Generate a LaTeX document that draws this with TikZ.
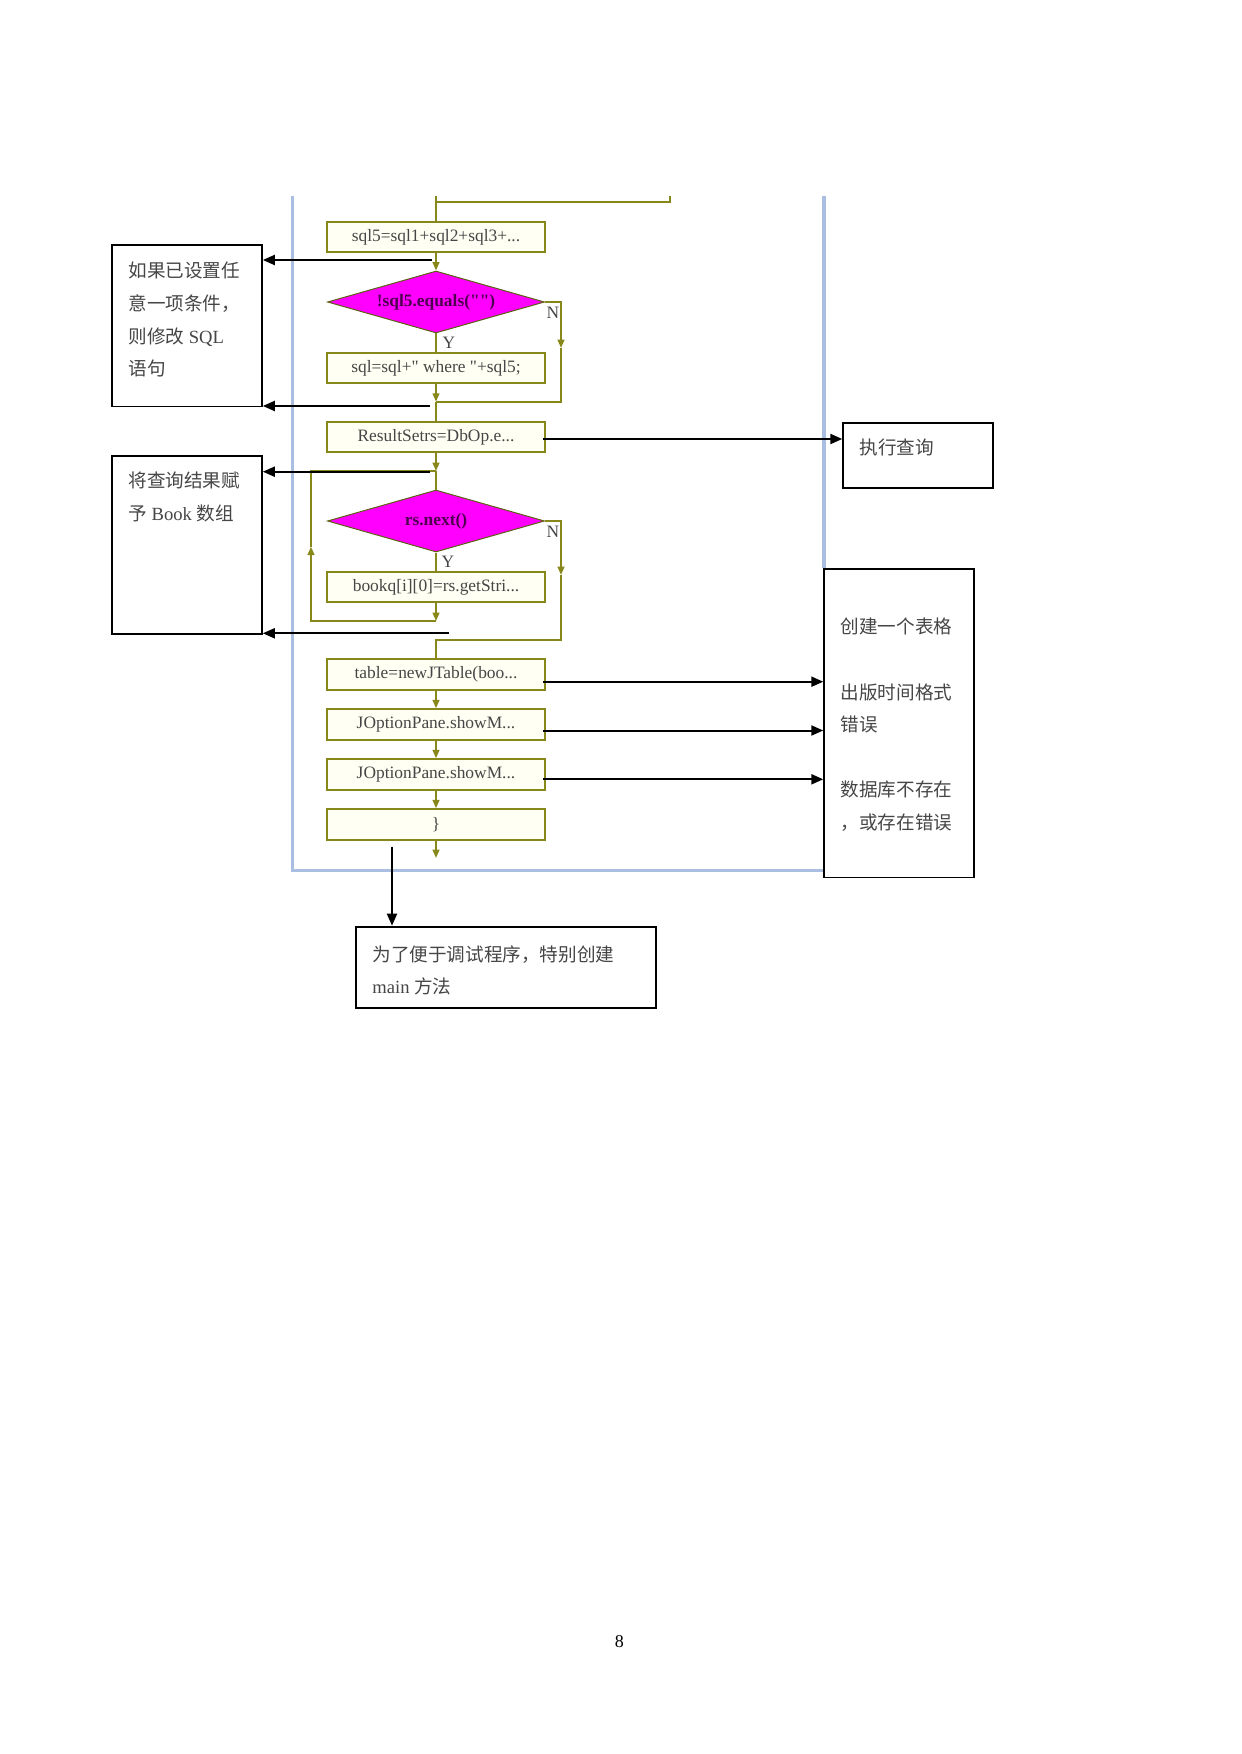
\documentclass[tikz,border=0pt]{standalone}
\usepackage{fontspec}
\setmainfont{Liberation Serif}
\newfontfamily\codefont{Liberation Serif}
\newfontfamily\cjk{Noto Sans CJK SC}
\usetikzlibrary{shapes.geometric,arrows.meta}
\definecolor{oliv}{RGB}{136,136,26}
\definecolor{frameblue}{RGB}{170,190,225}
\definecolor{boxfill}{RGB}{255,255,243}
\definecolor{txtgray}{RGB}{70,70,70}
\definecolor{dpurple}{RGB}{80,0,80}
\definecolor{mag}{RGB}{255,0,255}
\tikzset{
 flowbox/.style={draw=oliv, line width=1pt, fill=boxfill, minimum width=109.25pt, minimum height=15.25pt, inner sep=0pt, font=\codefont\fontsize{8.7}{10}\selectfont, text=txtgray},
 decide/.style={diamond, draw=oliv!70!black, line width=0.5pt, fill=mag, aspect=3.5, minimum width=108.5pt, minimum height=31pt, inner sep=0pt, font=\codefont\fontsize{8.7}{10}\selectfont\bfseries, text=dpurple},
 oline/.style={draw=oliv, line width=0.9pt},
 oarrow/.style={oline, -{Triangle[length=4.2pt,width=3.4pt]}},
 barrow/.style={draw=black, line width=1pt, -{Triangle[length=6pt,width=5pt]}},
 note/.style={draw=black, line width=0.9pt, fill=white, inner sep=0pt, anchor=north west, text=txtgray, font=\fontsize{9.3}{16.3}\selectfont},
 yn/.style={font=\codefont\fontsize{8.7}{10}\selectfont, text=txtgray, inner sep=0pt},
 frameline/.style={draw=frameblue, line width=1.6pt},
}
\newcommand{\notetext}[4]{\parbox[c][#2][t]{#1}{\vspace*{#3}\leftskip=8.25pt\parindent=0pt #4}}
\begin{document}
\begin{tikzpicture}[x=0.5pt,y=-0.5pt]
\fill[white] (0,0) rectangle (1241,1754);
\useasboundingbox (0,0) rectangle (1241,1754);
% blue frame
\draw[frameline] (292.7,196) -- (292.7,870.7) -- (823.3,870.7);
\draw[frameline] (824,196) -- (824,568.3);
% flow nodes
\node[flowbox] (s5) at (436,237) {sql5=sql1+sql2+sql3+...};
\node[decide] (d1) at (436,302) {!sql5.equals("")};
\node[flowbox] (s) at (436,368) {sql=sql+" where "+sql5;};
\node[flowbox] (rs) at (436,437) {ResultSetrs=DbOp.e...};
\node[decide] (d2) at (436,521) {rs.next()};
\node[flowbox] (bk) at (436,587) {bookq[i][0]=rs.getStri...};
\node[flowbox] (tb) at (436,674.5) {table=newJTable(boo...};
\node[flowbox] (j1) at (436,724.5) {JOptionPane.showM...};
\node[flowbox] (j2) at (436,774.5) {JOptionPane.showM...};
\node[flowbox] (br) at (436,824.5) {\}};
% labels
\node[yn] (y1) at (449,343) {Y};
\node[yn] (n1) at (553,313) {N};
\node[yn] (y2) at (448,561.7) {Y};
\node[yn] (n2) at (553,531.7) {N};
% coordinates
\coordinate (top) at (436,196);
\coordinate (tj) at (436,202.3);
\coordinate (tr) at (670,202.3);
\coordinate (tre) at (670,196);
\coordinate (n1a) at (561,348);
\coordinate (n1b) at (561,401.7);
\coordinate (j1m) at (436,401.7);
\coordinate (lt) at (436,471);
\coordinate (lb) at (436,621);
\coordinate (lbl) at (311,621);
\coordinate (lm) at (311,546.7);
\coordinate (ltl) at (311,471);
\coordinate (n2a) at (561,575);
\coordinate (n2b) at (561,640);
\coordinate (j2m) at (436,640);
\coordinate (fend) at (436,858);
% olive connectors
\draw[oline] (top) -- (s5.north);
\draw[oline] (tj) -- (tr) -- (tre);
\draw[oarrow] (s5.south) -- (d1.north);
\draw[oline] (d1.south) -- (s.north);
\draw[oarrow] (d1.east) -| (n1a);
\draw[oline] (n1a) -- (n1b) -- (j1m);
\draw[oarrow] (s.south) -- (j1m);
\draw[oline] (j1m) -- (rs.north);
\draw[oarrow] (rs.south) -- (lt);
\draw[oline] (lt) -- (d2.north);
\draw[oline] (d2.south) -- (bk.north);
\draw[oarrow] (bk.south) -- (lb);
\draw[oarrow] (lb) -- (lbl) -- (lm);
\draw[oline] (lm) -- (ltl) -- (lt);
\draw[oarrow] (d2.east) -| (n2a);
\draw[oline] (n2a) -- (n2b) -- (j2m) -- (tb.north);
\draw[oarrow] (tb.south) -- (j1.north);
\draw[oarrow] (j1.south) -- (j2.north);
\draw[oarrow] (j2.south) -- (br.north);
\draw[oarrow] (br.south) -- (fend);
% note boxes
\node[note] (b1) at (111,244) {\notetext{75pt}{80.85pt}{5.09pt}{\strut{\cjk 如果已设置任}\\{\cjk 意一项条件，}\\{\cjk 则修改} SQL\\{\cjk 语句}}};
\node[note] (b2) at (111,455) {\notetext{75pt}{89.15pt}{4.59pt}{\strut{\cjk 将查询结果赋}\\{\cjk 予} Book {\cjk 数组}}};
\node[note, line width=0.8pt] (ex) at (842.3,422.3) {\notetext{75pt}{32.5pt}{4.29pt}{\strut{\cjk 执行查询}}};
\node[note, line width=0.8pt] (rb) at (823.3,568.3) {\notetext{75pt}{154.2pt}{20.94pt}{\strut{\cjk 创建一个表格}\\[16.3pt]{\cjk 出版时间格式}\\{\cjk 错误}\\[16.3pt]{\cjk 数据库不存在}\\{\cjk ，或存在错误}}};
\node[note] (bb) at (355,925.7) {\notetext{150pt}{40.5pt}{5.89pt}{\strut{\cjk 为了便于调试程序，特别创建}\\main {\cjk 方法}}};
% black arrows
\coordinate (a1) at (431.7,260);
\coordinate (a2) at (430,406);
\coordinate (a3) at (543,439);
\coordinate (a4) at (430,471.7);
\coordinate (a5) at (449,633.3);
\coordinate (a6) at (543,681.7);
\coordinate (a7) at (543,730.5);
\coordinate (a8) at (543,779.3);
\coordinate (a9) at (392,846.7);
\draw[barrow] (a1) -- (b1.east |- a1);
\draw[barrow] (a2) -- (b1.east |- a2);
\draw[barrow] (a3) -- (ex.west |- a3);
\draw[barrow] (a4) -- (b2.east |- a4);
\draw[barrow] (a5) -- (b2.east |- a5);
\draw[barrow] (a6) -- (rb.west |- a6);
\draw[barrow] (a7) -- (rb.west |- a7);
\draw[barrow] (a8) -- (rb.west |- a8);
\draw[barrow] (a9) -- (bb.north -| a9);
% page number
\node[font=\fontsize{9}{10}\selectfont, inner sep=0pt] (pg) at (619.3,1641.7) {8};
\end{tikzpicture}
\end{document}
